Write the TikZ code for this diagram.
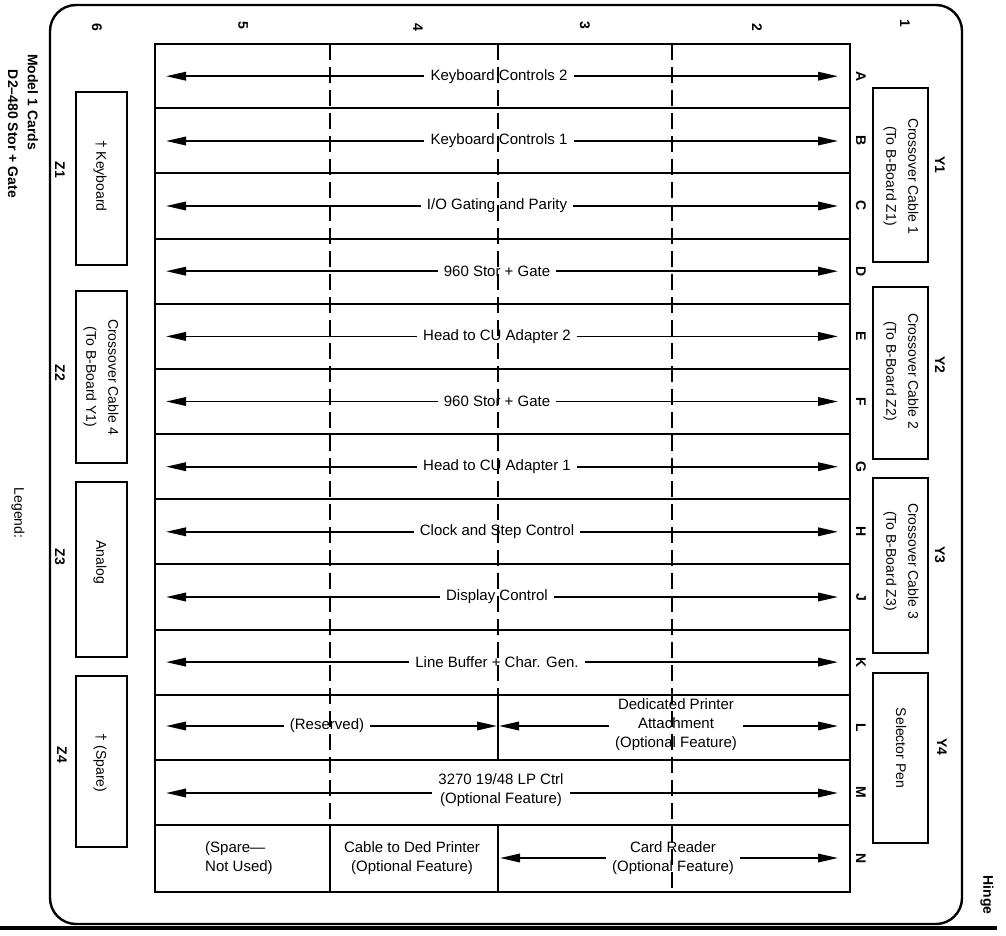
\documentclass[tikz,border=0pt]{standalone}
\usepackage{fontspec}
\setmainfont{Liberation Sans}
\usetikzlibrary{arrows.meta}
\newcommand\rowarr[4]{%
  \node[lbl] (t#1) at (#4,#2) {#3};
  \coordinate (l#1) at (166,#2);
  \coordinate (r#1) at (838,#2);
  \draw[arr] (t#1.west) -- (l#1);
  \draw[arr] (t#1.east) -- (r#1);
}
\begin{document}
\begin{tikzpicture}[x=1pt,y=-1pt,
  gridline/.style={line width=2pt},
  dsh/.style={line width=2pt, dash pattern=on 16pt off 7pt},
  arr/.style={line width=1.8pt, -{Triangle[length=20pt,width=8.5pt]}},
  lbl/.style={font=\fontsize{15}{19}\selectfont, inner sep=6pt, align=center},
  vt/.style={rotate=-90, font=\fontsize{14}{17}\selectfont\bfseries, inner sep=1pt},
  boxtxt/.style={rotate=-90, align=center, font=\fontsize{14}{22}\selectfont},
  slot/.style={draw, line width=2pt, inner sep=0pt},
  zslot/.style={slot, minimum width=51pt},
  yslot/.style={slot, minimum width=55pt}
]
\useasboundingbox (0,0) rectangle (1006,936);
% outer board
\draw[line width=2.4pt, rounded corners=26pt] (50,5) rectangle (962,924);
\draw[line width=4pt] (0,928) -- (997,928);
% grid
\draw[gridline] (155,44) rectangle (850,892);
\foreach \yy in {108.3,173.5,238.6,303.8,368.9,434.1,499.2,564.4,629.5,694.7,759.8,825}
  \draw[gridline] (155,\yy) -- (850,\yy);
\draw[dsh] (330,44) -- (330,825);
\draw[gridline] (330,825) -- (330,892);
\draw[dsh] (498,44) -- (498,694.7);
\draw[gridline] (498,694.7) -- (498,759.8);
\draw[gridline] (498,825) -- (498,892);
\draw[dsh] (672,44) -- (672,892);
% column numbers
\node[vt] (c6) at (97,27) {6};
\node[vt] (c5) at (243,25) {5};
\node[vt] (c4) at (418,27) {4};
\node[vt] (c3) at (585,25) {3};
\node[vt] (c2) at (757,27) {2};
\node[vt] (c1) at (905,23) {1};
% row letters
\node[vt] (rA) at (861,76.2) {A};
\node[vt] (rB) at (861,141) {B};
\node[vt] (rC) at (861,206) {C};
\node[vt] (rD) at (861,271.2) {D};
\node[vt] (rE) at (861,336.4) {E};
\node[vt] (rF) at (861,401.5) {F};
\node[vt] (rG) at (861,466.7) {G};
\node[vt] (rH) at (861,531.8) {H};
\node[vt] (rJ) at (861,597) {J};
\node[vt] (rK) at (861,662.1) {K};
\node[vt] (rL) at (861,727.3) {L};
\node[vt] (rM) at (861,792.4) {M};
\node[vt] (rN) at (861,858.5) {N};
% row arrows
\rowarr{A}{76.2}{Keyboard Controls 2}{499}
\rowarr{B}{141}{Keyboard Controls 1}{499}
\rowarr{C}{206}{I/O Gating and Parity}{497}
\rowarr{D}{271.2}{960 Stor + Gate}{497}
\rowarr{E}{336.4}{Head to CU Adapter 2}{497}
\rowarr{F}{401.5}{960 Stor + Gate}{497}
\rowarr{G}{466.7}{Head to CU Adapter 1}{497}
\rowarr{H}{531.8}{Clock and Step Control}{497}
\rowarr{J}{597}{Display Control}{497}
\rowarr{K}{662.1}{Line Buffer + Char. Gen.}{497}
% row L
\node[lbl] (tL1) at (327,726) {(Reserved)};
\coordinate (lL1) at (166,726);
\coordinate (rL1) at (497,726);
\draw[arr] (tL1.west) -- (lL1);
\draw[arr] (tL1.east) -- (rL1);
\node[lbl] (tL2) at (676,725) {Dedicated Printer\\Attachment\\(Optional Feature)};
\coordinate (lL2) at (499,726);
\coordinate (rL2) at (838,726);
\draw[arr] ([yshift=-1pt]tL2.west) -- (lL2);
\draw[arr] ([yshift=-1pt]tL2.east) -- (rL2);
% row M
\node[lbl] (tM) at (501,790) {3270 19/48 LP Ctrl\\(Optional Feature)};
\coordinate (lM) at (166,793);
\coordinate (rM) at (838,793);
\draw[arr] ([yshift=-3pt]tM.west) -- (lM);
\draw[arr] ([yshift=-3pt]tM.east) -- (rM);
% row N
\node[lbl, align=left, anchor=west] (tN1) at (199,858) {(Spare—\\Not Used)};
\node[lbl] (tN2) at (412,858) {Cable to Ded Printer\\(Optional Feature)};
\node[lbl] (tN3) at (673,858) {Card Reader\\(Optional Feature)};
\coordinate (lN3) at (500,858);
\coordinate (rN3) at (838,858);
\draw[arr] (tN3.west) -- (lN3);
\draw[arr] (tN3.east) -- (rN3);
% Z slots
\node[zslot, minimum height=173pt] (Z1) at (101.5,178.5) {};
\node[zslot, minimum height=172pt] (Z2) at (101.5,377) {};
\node[zslot, minimum height=175pt] (Z3) at (101.5,569.5) {};
\node[zslot, minimum height=171pt] (Z4) at (101.5,761.5) {};
\node[boxtxt] (tZ1) at (100,176) {† Keyboard};
\node[boxtxt] (tZ2) at (101,377) {Crossover Cable 4\\(To B-Board Y1)};
\node[boxtxt] (tZ3) at (100,562) {Analog};
\node[boxtxt] (tZ4) at (100,763) {† (Spare)};
\node[vt] (nZ1) at (60,170) {Z1};
\node[vt] (nZ2) at (60,373) {Z2};
\node[vt] (nZ3) at (60,557) {Z3};
\node[vt] (nZ4) at (62,755) {Z4};
% Y slots
\node[yslot, minimum height=174pt] (Y1) at (900.5,175) {};
\node[yslot, minimum height=172pt] (Y2) at (900.5,373) {};
\node[yslot, minimum height=175pt] (Y3) at (900.5,565.5) {};
\node[yslot, minimum height=170pt] (Y4) at (900.5,758) {};
\node[boxtxt] (tY1) at (901,176) {Crossover Cable 1\\(To B-Board Z1)};
\node[boxtxt] (tY2) at (901,371) {Crossover Cable 2\\(To B-Board Z2)};
\node[boxtxt] (tY3) at (901,561) {Crossover Cable 3\\(To B-Board Z3)};
\node[boxtxt] (tY4) at (901,748) {Selector Pen};
\node[vt] (nY1) at (940,165) {Y1};
\node[vt] (nY2) at (940,365) {Y2};
\node[vt] (nY3) at (940,555) {Y3};
\node[vt] (nY4) at (942,747) {Y4};
% outside texts
\node[vt] (m1) at (33,102) {Model 1 Cards};
\node[vt] (m2) at (13,134) {D2–480 Stor + Gate};
\node[boxtxt] (leg) at (18,513) {Legend:};
\node[vt] (hinge) at (987,895) {Hinge};
\end{tikzpicture}
\end{document}
